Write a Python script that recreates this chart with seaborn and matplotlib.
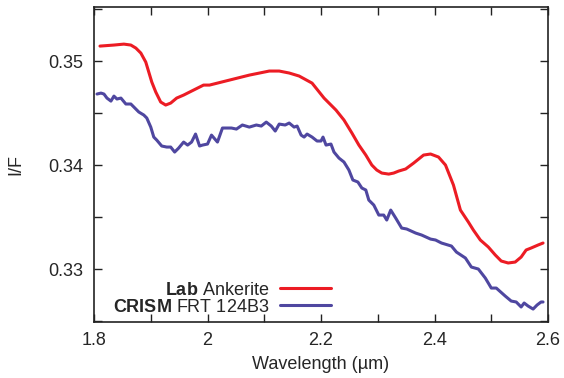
import matplotlib
matplotlib.use("Agg")
import matplotlib.pyplot as plt
import seaborn as sns
import pandas as pd
from matplotlib.ticker import MultipleLocator, FuncFormatter

# Lab ankerite spectrum (wavelength in um, I/F)
lab_wl = [1.8105, 1.8351, 1.8526, 1.8649, 1.8737, 1.8825, 1.8912, 1.8965, 1.9018, 1.9088,
          1.9175, 1.9263, 1.9351, 1.9456, 1.9579, 1.9754, 1.9930, 2.0035, 2.0386, 2.0737,
          2.1088, 2.1263, 2.1439, 2.1614, 2.1842, 2.2053, 2.2263, 2.2404, 2.2544, 2.2667,
          2.2789, 2.2895, 2.2982, 2.3070, 2.3193, 2.3281, 2.3368, 2.3491, 2.3632, 2.3807,
          2.3930, 2.4070, 2.4193, 2.4333, 2.4456, 2.4596, 2.4684, 2.4807, 2.4947, 2.5070,
          2.5175, 2.5298, 2.5421, 2.5526, 2.5614, 2.5702, 2.5825, 2.5912]
lab_if = [0.35144, 0.35154, 0.35163, 0.35154, 0.35125, 0.35077, 0.34990, 0.34894, 0.34798, 0.34702,
          0.34606, 0.34577, 0.34596, 0.34644, 0.34673, 0.34721, 0.34769, 0.34769, 0.34817, 0.34865,
          0.34904, 0.34904, 0.34885, 0.34856, 0.34788, 0.34644, 0.34529, 0.34433, 0.34308, 0.34192,
          0.34096, 0.34000, 0.33952, 0.33923, 0.33913, 0.33923, 0.33942, 0.33962, 0.34019, 0.34096,
          0.34106, 0.34077, 0.34000, 0.33808, 0.33567, 0.33452, 0.33375, 0.33279, 0.33212, 0.33135,
          0.33077, 0.33058, 0.33067, 0.33115, 0.33183, 0.33202, 0.33231, 0.33250]

# CRISM FRT 124B3 spectrum
crism_wl = [1.8053, 1.8123, 1.8175, 1.8228, 1.8298, 1.8351, 1.8404, 1.8474, 1.8561, 1.8649,
            1.8702, 1.8789, 1.8877, 1.8930, 1.9000, 1.9053, 1.9105, 1.9193, 1.9281, 1.9351,
            1.9421, 1.9491, 1.9579, 1.9649, 1.9719, 1.9789, 1.9860, 1.9912, 2.0000, 2.0070,
            2.0175, 2.0263, 2.0421, 2.0509, 2.0614, 2.0737, 2.0860, 2.0947, 2.1035, 2.1123,
            2.1193, 2.1263, 2.1368, 2.1439, 2.1526, 2.1579, 2.1649, 2.1702, 2.1754, 2.1842,
            2.1930, 2.2000, 2.2035, 2.2088, 2.2175, 2.2228, 2.2316, 2.2404, 2.2491, 2.2561,
            2.2649, 2.2719, 2.2789, 2.2842, 2.2930, 2.3018, 2.3105, 2.3158, 2.3228, 2.3316,
            2.3421, 2.3509, 2.3667, 2.3772, 2.3930, 2.4018, 2.4123, 2.4298, 2.4386, 2.4544,
            2.4649, 2.4772, 2.4895, 2.5000, 2.5088, 2.5246, 2.5351, 2.5439, 2.5526, 2.5579,
            2.5649, 2.5737, 2.5807, 2.5877, 2.5912]
crism_if = [0.34683, 0.34692, 0.34683, 0.34644, 0.34615, 0.34663, 0.34635, 0.34644, 0.34587, 0.34587,
            0.34558, 0.34510, 0.34481, 0.34452, 0.34365, 0.34269, 0.34240, 0.34183, 0.34173, 0.34173,
            0.34125, 0.34163, 0.34221, 0.34192, 0.34221, 0.34298, 0.34183, 0.34192, 0.34202, 0.34288,
            0.34221, 0.34356, 0.34356, 0.34346, 0.34385, 0.34365, 0.34385, 0.34375, 0.34413, 0.34375,
            0.34327, 0.34394, 0.34385, 0.34404, 0.34365, 0.34375, 0.34288, 0.34269, 0.34298, 0.34269,
            0.34231, 0.34231, 0.34269, 0.34192, 0.34202, 0.34125, 0.34067, 0.34029, 0.33952, 0.33856,
            0.33837, 0.33779, 0.33760, 0.33663, 0.33615, 0.33519, 0.33519, 0.33471, 0.33567, 0.33490,
            0.33394, 0.33385, 0.33346, 0.33327, 0.33288, 0.33279, 0.33250, 0.33221, 0.33163, 0.33106,
            0.33019, 0.33000, 0.32913, 0.32817, 0.32817, 0.32740, 0.32692, 0.32683, 0.32635, 0.32673,
            0.32644, 0.32615, 0.32654, 0.32683, 0.32683]

labels = [r"$\mathbf{Lab}$ Ankerite", r"$\mathbf{CRISM}$ FRT 124B3"]
colors = ["#EC1C24", "#4F47A0"]

sns.set_style("ticks")
plt.rcParams["font.family"] = ["Liberation Sans", "DejaVu Sans"]
plt.rcParams["mathtext.fontset"] = "custom"
plt.rcParams["mathtext.rm"] = "Liberation Sans"
plt.rcParams["mathtext.bf"] = "Liberation Sans:bold"

df = pd.concat([
    pd.DataFrame({"wl": lab_wl, "if": lab_if, "series": labels[0]}),
    pd.DataFrame({"wl": crism_wl, "if": crism_if, "series": labels[1]}),
])

fig = plt.figure(figsize=(5.64, 3.78), dpi=100)
ax = fig.add_axes([0.1667, 0.148, 0.805, 0.8335])

sns.lineplot(data=df, x="wl", y="if", hue="series", palette=colors,
             estimator=None, sort=False, linewidth=2.2, ax=ax)

ax.set_xlim(1.8, 2.6)
ax.set_ylim(0.3249, 0.3552)
ax.xaxis.set_major_locator(MultipleLocator(0.2))
ax.xaxis.set_minor_locator(MultipleLocator(0.1))
ax.yaxis.set_major_locator(MultipleLocator(0.01))
ax.yaxis.set_minor_locator(MultipleLocator(0.005))
ax.xaxis.set_major_formatter(FuncFormatter(lambda v, p: f"{v:g}"))
ax.yaxis.set_major_formatter(FuncFormatter(lambda v, p: f"{v:g}"))
ax.tick_params(which="both", direction="in", top=True, right=True,
               length=6, width=1, labelsize=13, color="#222222")
ax.tick_params(axis="x", pad=7)
ax.tick_params(axis="y", pad=8)
for s in ax.spines.values():
    s.set_linewidth(1.2)
    s.set_color("#222222")

ax.set_xlabel("Wavelength (\u00b5m)", fontsize=13, labelpad=5)
ax.set_ylabel("I/F", fontsize=13, labelpad=17)

ax.legend(loc="lower right", bbox_to_anchor=(0.522, 0.02), frameon=False,
          markerfirst=False, handlelength=2.8, handletextpad=0.6,
          labelspacing=0.0, borderpad=0, borderaxespad=0, fontsize=13)

fig.savefig("out.png", dpi=100)
